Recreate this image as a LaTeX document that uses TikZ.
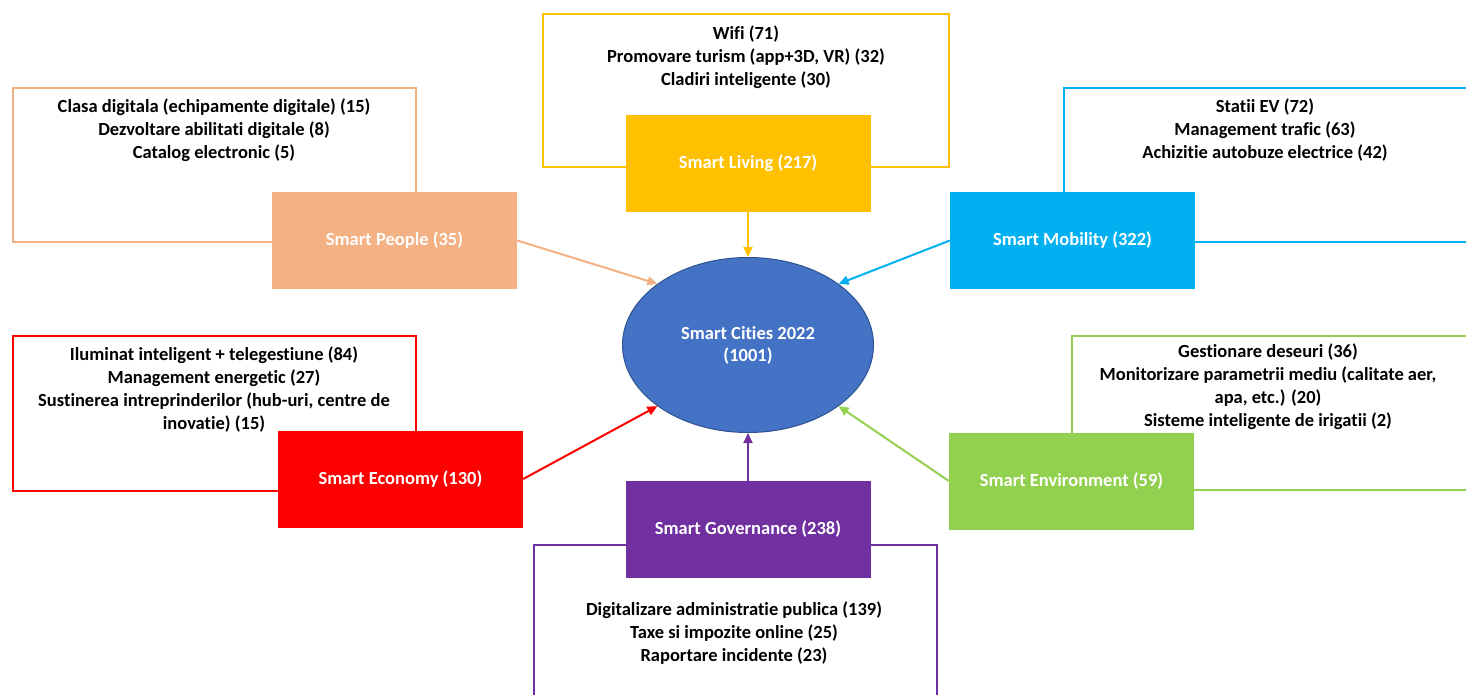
\documentclass[tikz,border=0pt]{standalone}
\usepackage{fontspec}
\setmainfont{Carlito}[Ligatures=NoCommon]
\usepackage{xcolor}
\usepackage{tikz}
\usetikzlibrary{shapes.geometric, arrows.meta, positioning}
\definecolor{livingyellow}{HTML}{FFC000}
\definecolor{peoplepeach}{HTML}{F4B183}
\definecolor{mobilityblue}{HTML}{00B0F0}
\definecolor{economyred}{HTML}{FF0000}
\definecolor{envgreen}{HTML}{92D050}
\definecolor{govpurple}{HTML}{7030A0}
\definecolor{hubblue}{HTML}{4472C4}
\definecolor{hubedge}{HTML}{2F528F}

\begin{document}
\begin{tikzpicture}[
  x=1pt,
  y=-1pt,
  font=\bfseries\fontsize{18.5}{23}\selectfont,
  every node/.style={inner sep=0pt},
  frame/.style={draw, line width=1.5pt, minimum width=403pt, minimum height=154pt},
  catbox/.style={minimum width=245pt, minimum height=97pt, text=white},
  listtext/.style={align=center, text=black},
  link/.style={line width=2pt, -{Triangle[length=10pt, width=9pt]}}
]
\clip (0,0) rectangle (1466,695);
\fill[white] (0,0) rectangle (1466,695);

% outline frames
\node[frame, draw=livingyellow, minimum width=406pt, minimum height=153pt] (livingframe) at (746, 90.5) {};
\node[frame, draw=peoplepeach] (peopleframe) at (214.5, 165) {};
\node[frame, draw=mobilityblue] (mobilityframe) at (1265.5, 165) {};
\node[frame, draw=economyred, minimum height=155pt] (economyframe) at (214.5, 413.5) {};
\node[frame, draw=envgreen] (envframe) at (1273.5, 413) {};
\node[frame, draw=govpurple, minimum height=160pt] (govframe) at (735.5, 625) {};

% lists
\node[listtext] (livinglist) at (746, 57) {%
  Wifi (71)\\
  Promovare turism (app+3D, VR) (32)\\
  Cladiri inteligente (30)};
\node[listtext] (peoplelist) at (214, 130.5) {%
  Clasa digitala (echipamente digitale) (15)\\
  Dezvoltare abilitati digitale (8)\\
  Catalog electronic (5)};
\node[listtext] (mobilitylist) at (1265, 130.5) {%
  Statii EV (72)\\
  Management trafic (63)\\
  Achizitie autobuze electrice (42)};
\node[listtext] (economylist) at (214, 389.5) {%
  Iluminat inteligent + telegestiune (84)\\
  Management energetic (27)\\
  Sustinerea intreprinderilor (hub-uri, centre de\\
  inovatie) (15)};
\node[listtext] (envlist) at (1268, 387) {%
  Gestionare deseuri (36)\\
  Monitorizare parametrii mediu (calitate aer,\\
  apa, etc.) (20)\\
  Sisteme inteligente de irigatii (2)};
\node[listtext] (govlist) at (734, 633) {%
  Digitalizare administratie publica (139)\\
  Taxe si impozite online (25)\\
  Raportare incidente (23)};

% category boxes
\node[catbox, fill=livingyellow] (living) at (748, 163.5) {Smart Living (217)};
\node[catbox, fill=peoplepeach] (people) at (394.5, 240.5) {Smart People (35)};
\node[catbox, fill=mobilityblue] (mobility) at (1072.5, 240.5) {Smart Mobility (322)};
\node[catbox, fill=economyred] (economy) at (400.5, 479) {Smart Economy (130)};
\node[catbox, fill=envgreen] (env) at (1071.5, 481) {Smart Environment (59)};
\node[catbox, fill=govpurple] (gov) at (748, 529.5) {Smart Governance (238)};

% centre
\node[ellipse, fill=hubblue, draw=hubedge, line width=1pt,
      minimum width=251pt, minimum height=175pt, text=white, align=center,
      font=\bfseries\fontsize{18.5}{22}\selectfont] (hub) at (748, 345)
      {Smart Cities 2022\\(1001)};

\draw[link, draw=livingyellow, fill=livingyellow] (living.south) -- (hub.north);
\draw[link, draw=peoplepeach, fill=peoplepeach] (people.east) -- (hub.146);
\draw[link, draw=mobilityblue, fill=mobilityblue] (mobility.west) -- (hub.34);
\draw[link, draw=economyred, fill=economyred] (economy.east) -- (hub.214);
\draw[link, draw=envgreen, fill=envgreen] (env.west) -- (hub.326);
\draw[link, draw=govpurple, fill=govpurple] (gov.north) -- (hub.south);

\end{tikzpicture}
\end{document}
